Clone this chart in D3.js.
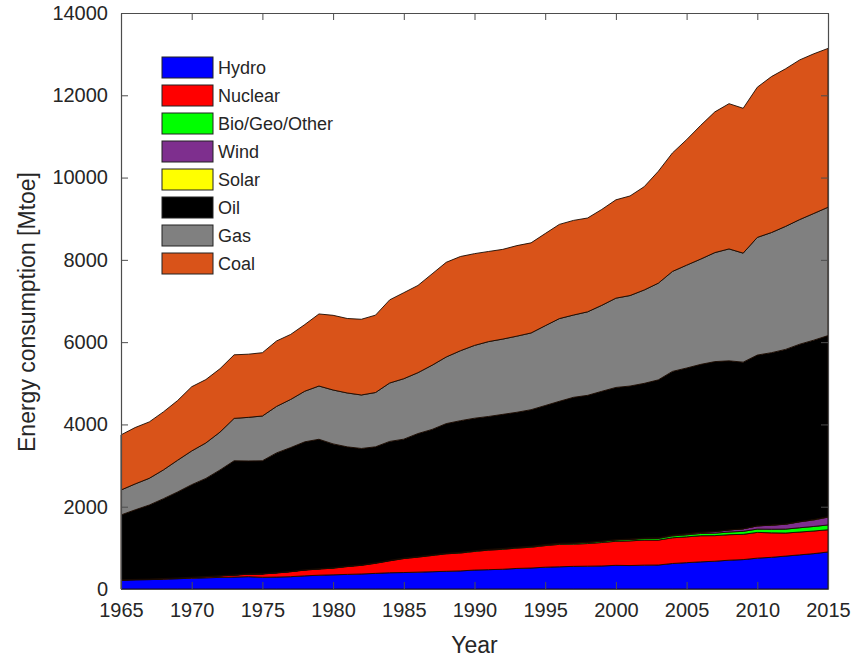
<!DOCTYPE html>
<html>
<head>
<meta charset="utf-8">
<script src="https://cdn.jsdelivr.net/npm/d3@7"></script>
<style>
  html, body { margin: 0; padding: 0; background: #fff; }
  svg { display: block; }
  text { font-family: "Liberation Sans", Arial, Helvetica, sans-serif; fill: #262626; }
</style>
</head>
<body>
<svg id="chart" width="864" height="659"></svg>
<script>
// World primary energy consumption by source, Mtoe
const years = d3.range(1965, 2016);

const hydro = [215,222,228,238,250,262,272,282,290,300,285,290,300,320,335,345,355,365,380,395,
  400,410,420,430,440,460,470,480,500,510,530,540,550,555,560,575,570,580,583,620,
  640,660,675,700,715,750,770,800,830,860,900];
const nuclear = [6,8,9,12,14,18,25,35,45,60,80,100,120,140,150,162,190,210,245,290,
  340,365,395,425,435,453,475,485,495,505,525,545,540,550,570,585,600,610,605,625,
  627,635,622,620,614,626,595,560,555,550,540];
const bioGeoOther = [4,4,4,5,5,6,6,6,7,7,7,8,8,8,9,10,10,11,11,12,
  12,13,14,15,16,17,18,19,20,21,22,24,26,28,30,32,34,36,40,45,
  50,55,60,65,72,80,88,96,104,110,117];
const wind = [0,0,0,0,0,0,0,0,0,0,0,0,0,0,0,0,0,0,0,0,
  0,0,0,0,0,1,1,1,1,2,2,3,3,4,5,7,9,12,15,19,
  24,30,40,50,62,78,98,118,144,160,190];
const solar = [0,0,0,0,0,0,0,0,0,0,0,0,0,0,0,0,0,0,0,0,
  0,0,0,0,0,0,0,0,0,0,0,0,0,0,0,0,0,0,0,0,
  0,0,0,1,1,2,3,5,7,9,12];
const oil = [1575,1690,1800,1940,2090,2250,2385,2570,2775,2745,2745,2910,3010,3110,3145,3010,2900,2830,2820,2890,
  2890,2990,3050,3150,3200,3220,3230,3260,3280,3320,3380,3450,3540,3570,3640,3700,3720,3760,3840,3980,
  4030,4080,4130,4110,4050,4150,4190,4245,4310,4360,4400];
const gas = [606,630,650,700,770,820,862,920,1030,1060,1088,1130,1170,1230,1295,1310,1310,1300,1320,1420,
  1470,1480,1560,1620,1700,1770,1820,1830,1850,1865,1940,2010,2000,2030,2090,2170,2200,2270,2350,2430,
  2500,2560,2650,2720,2650,2860,2920,2990,3030,3080,3120];
const coal = [1340,1370,1370,1410,1450,1560,1540,1540,1545,1535,1538,1590,1580,1620,1751,1815,1810,1840,1880,2020,
  2090,2120,2220,2300,2290,2230,2190,2180,2200,2190,2240,2290,2300,2280,2330,2390,2420,2510,2720,2880,
  3050,3250,3420,3530,3520,3650,3790,3830,3880,3880,3860];

const seriesNames = ["Hydro", "Nuclear", "Bio/Geo/Other", "Wind", "Solar", "Oil", "Gas", "Coal"];
const seriesValues = [hydro, nuclear, bioGeoOther, wind, solar, oil, gas, coal];
const seriesColors = ["#0000ff", "#ff0000", "#00ff00", "#7e2f8e", "#ffff00", "#000000", "#808080", "#d95319"];

const xTicks = d3.range(1965, 2016, 5);
const yTicks = d3.range(0, 14001, 2000);

const rows = years.map((yr, i) => {
  const r = { year: yr };
  seriesNames.forEach((name, k) => { r[name] = seriesValues[k][i]; });
  return r;
});

const svg = d3.select("#chart");
const plot = { left: 121, right: 828, top: 13, bottom: 589 };

const x = d3.scaleLinear().domain([1965, 2015]).range([plot.left, plot.right]);
const y = d3.scaleLinear().domain([0, 14000]).range([plot.bottom, plot.top]);

const stacked = d3.stack().keys(seriesNames)(rows);

const area = d3.area()
  .x(d => x(d.data.year))
  .y0(d => y(d[0]))
  .y1(d => y(d[1]));

svg.append("g")
  .selectAll("path")
  .data(stacked)
  .join("path")
  .attr("d", area)
  .attr("fill", (d, i) => seriesColors[i])
  .attr("stroke", "#1a0a00")
  .attr("stroke-width", 0.9)
  .attr("stroke-linejoin", "round");

// Axes box with inward ticks on all four sides
const axisColor = "#4d4d4d";
const tickLen = 7;

const xAxisBottom = d3.axisBottom(x).tickValues(xTicks).tickFormat(d3.format("d"))
  .tickSizeInner(-tickLen).tickSizeOuter(0).tickPadding(14);
const gx = svg.append("g").attr("transform", `translate(0,${plot.bottom})`).call(xAxisBottom);

const xAxisTop = d3.axisTop(x).tickValues(xTicks).tickFormat("")
  .tickSizeInner(-tickLen).tickSizeOuter(0);
const gxt = svg.append("g").attr("transform", `translate(0,${plot.top})`).call(xAxisTop);

const yAxisLeft = d3.axisLeft(y).tickValues(yTicks).tickFormat(d3.format("d"))
  .tickSizeInner(-tickLen).tickSizeOuter(0).tickPadding(13);
const gy = svg.append("g").attr("transform", `translate(${plot.left},0)`).call(yAxisLeft);

const yAxisRight = d3.axisRight(y).tickValues(yTicks).tickFormat("")
  .tickSizeInner(-tickLen).tickSizeOuter(0);
const gyr = svg.append("g").attr("transform", `translate(${plot.right},0)`).call(yAxisRight);

[gx, gxt, gy, gyr].forEach(g => {
  g.select(".domain").attr("stroke", axisColor).attr("stroke-width", 1.2);
  g.selectAll(".tick line").attr("stroke", axisColor).attr("stroke-width", 1);
  g.selectAll(".tick text")
    .attr("fill", "#262626")
    .style("font-size", "20px")
    .style("font-family", '"Liberation Sans", Arial, sans-serif');
});

// Axis titles
svg.append("text")
  .attr("x", (plot.left + plot.right) / 2)
  .attr("y", 653)
  .attr("text-anchor", "middle")
  .style("font-size", "23px")
  .text("Year");

svg.append("text")
  .attr("transform", "translate(35,312) rotate(-90)")
  .attr("text-anchor", "middle")
  .style("font-size", "23px")
  .text("Energy consumption [Mtoe]");

// Legend
const legend = svg.append("g").attr("transform", "translate(162,57)");
const entry = legend.selectAll("g")
  .data(seriesNames)
  .join("g")
  .attr("transform", (d, i) => `translate(0,${i * 28})`);

entry.append("rect")
  .attr("width", 51)
  .attr("height", 21)
  .attr("fill", (d, i) => seriesColors[i])
  .attr("stroke", "#222")
  .attr("stroke-width", 1);

entry.append("text")
  .attr("x", 56)
  .attr("y", 11)
  .attr("dy", "0.35em")
  .style("font-size", "18px")
  .text(d => d);
</script>
</body>
</html>
